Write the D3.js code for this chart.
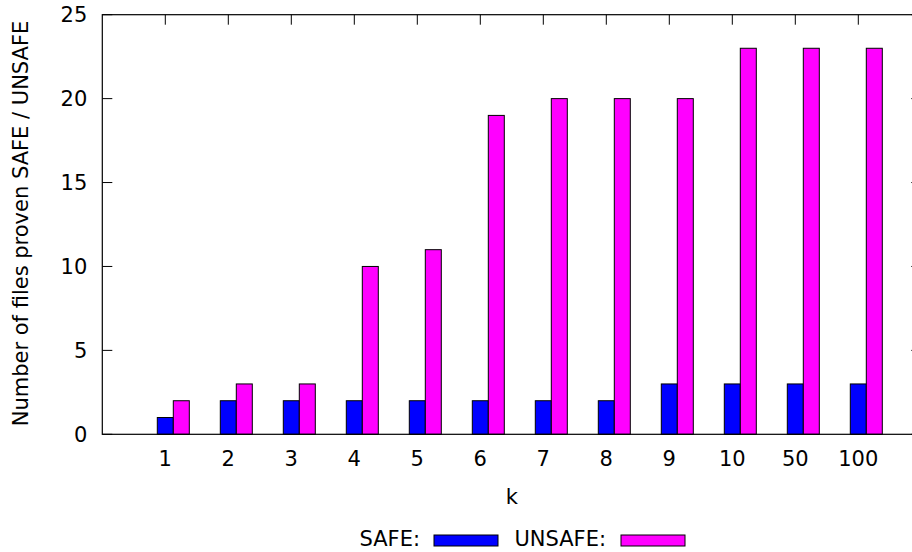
<!DOCTYPE html>
<html>
<head>
<meta charset="utf-8">
<script src="https://cdn.jsdelivr.net/npm/d3@7"></script>
<style>
  html, body { margin: 0; padding: 0; background: #fff; }
  svg { display: block; }
  text { font-family: "DejaVu Sans", sans-serif; font-size: 21px; fill: #000; }
</style>
</head>
<body>
<svg id="chart" width="912" height="552"></svg>
<script>
// Bound values k and the number of files proven safe / unsafe for each
const categories = ["1", "2", "3", "4", "5", "6", "7", "8", "9", "10", "50", "100"];
const safeValues = [1, 2, 2, 2, 2, 2, 2, 2, 3, 3, 3, 3];
const unsafeValues = [2, 3, 3, 10, 11, 19, 20, 20, 20, 23, 23, 23];
const yTicks = [0, 5, 10, 15, 20, 25];
const seriesNames = ["SAFE:", "UNSAFE:"];
const seriesColors = ["#0000ff", "#ff00ff"];

const svg = d3.select("#chart");
const plotLeft = 102.3, plotTop = 14.7, plotBottom = 434.3;
const step = 63;
const plotRight = plotLeft + step * (categories.length + 1); // frame runs past the window edge

// Linear x scale: category i sits at position i+1 in a 0..13 range
const x = d3.scaleLinear().domain([0, categories.length + 1]).range([plotLeft, plotRight]);
const y = d3.scaleLinear().domain([0, 25]).range([plotBottom, plotTop]);

const barW = 16;
const tickLen = 10;

// Tick marks (drawn first so filled bars cover them)
const ticks = svg.append("g").attr("stroke", "#000").attr("stroke-width", 1);
yTicks.forEach(t => {
  ticks.append("line").attr("x1", plotLeft).attr("x2", plotLeft + tickLen)
    .attr("y1", y(t)).attr("y2", y(t));
  ticks.append("line").attr("x1", plotRight).attr("x2", plotRight - tickLen)
    .attr("y1", y(t)).attr("y2", y(t));
});
categories.forEach((c, i) => {
  ticks.append("line").attr("x1", x(i + 1)).attr("x2", x(i + 1))
    .attr("y1", plotTop).attr("y2", plotTop + tickLen);
  ticks.append("line").attr("x1", x(i + 1)).attr("x2", x(i + 1))
    .attr("y1", plotBottom).attr("y2", plotBottom - tickLen);
});

// Bars
const groups = [safeValues, unsafeValues];
groups.forEach((vals, s) => {
  svg.append("g").selectAll("rect").data(vals).join("rect")
    .attr("x", (d, i) => x(i + 1) - barW / 2 + s * barW)
    .attr("y", d => y(d))
    .attr("width", barW)
    .attr("height", d => y(0) - y(d))
    .attr("fill", seriesColors[s])
    .attr("stroke", "#000")
    .attr("stroke-width", 1);
});

// Frame
svg.append("rect")
  .attr("x", plotLeft).attr("y", plotTop)
  .attr("width", plotRight - plotLeft).attr("height", plotBottom - plotTop)
  .attr("fill", "none").attr("stroke", "#000").attr("stroke-width", 1.2);

// Tick labels
svg.append("g").selectAll("text").data(yTicks).join("text")
  .attr("x", plotLeft - 15).attr("y", d => y(d))
  .attr("dy", "0.36em").attr("text-anchor", "end")
  .text(d => d);
svg.append("g").selectAll("text").data(categories).join("text")
  .attr("x", (d, i) => x(i + 1)).attr("y", 466)
  .attr("text-anchor", "middle")
  .text(d => d);

// Axis titles
svg.append("text")
  .attr("x", (plotLeft + plotRight) / 2).attr("y", 504)
  .attr("text-anchor", "middle").text("k");
svg.append("text")
  .attr("transform", `translate(28, 223.5) rotate(-90)`)
  .attr("text-anchor", "middle")
  .text("Number of files proven SAFE / UNSAFE");

// Legend
const legend = [
  { textRight: 420, boxX: 434 },
  { textRight: 606, boxX: 621 }
];
legend.forEach((l, s) => {
  svg.append("text").attr("x", l.textRight).attr("y", 546)
    .attr("text-anchor", "end").text(seriesNames[s]);
  svg.append("rect").attr("x", l.boxX).attr("y", 535)
    .attr("width", 64).attr("height", 11)
    .attr("fill", seriesColors[s]).attr("stroke", "#000").attr("stroke-width", 1);
});
</script>
</body>
</html>
